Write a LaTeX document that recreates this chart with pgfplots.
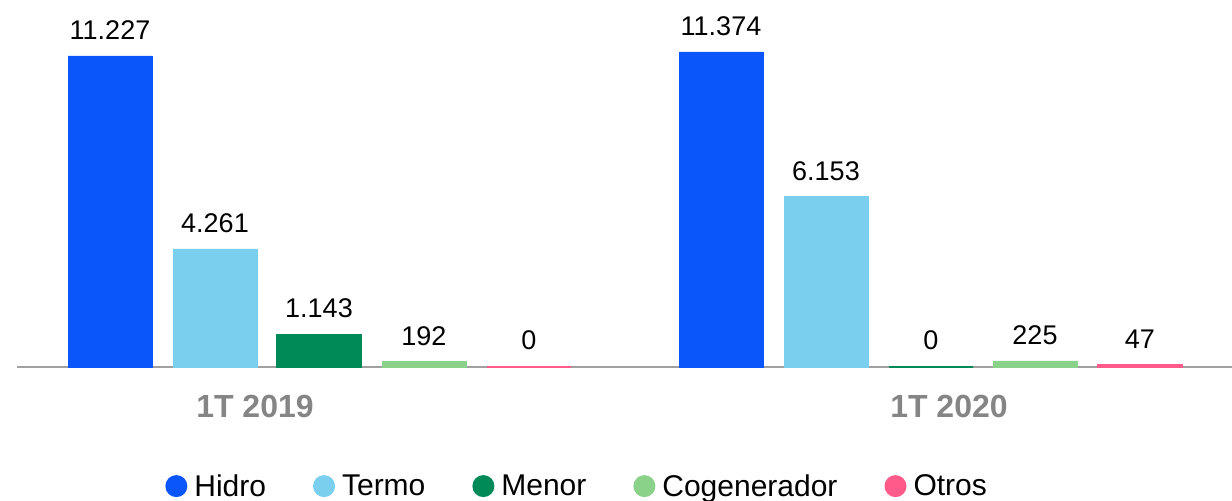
\documentclass[border=0pt]{standalone}
\usepackage{pgfplots}
\pgfplotsset{compat=1.18}
\usepackage{fontspec}
\setmainfont{Liberation Sans}
\definecolor{hidro}{HTML}{0A56FA}
\definecolor{termo}{HTML}{7ACFEE}
\definecolor{menor}{HTML}{008A58}
\definecolor{cogen}{HTML}{8AD28A}
\definecolor{otros}{HTML}{FF5A8A}
\definecolor{axisgray}{HTML}{A0A0A0}
\definecolor{catgray}{HTML}{858585}

\begin{document}
\begin{tikzpicture}
\path[use as bounding box] (-17bp,-134bp) rectangle (1215bp,367bp);
\begin{axis}[
    scale only axis,
    width=1215bp, height=311bp,
    xmin=0, xmax=1215,
    ymin=0, ymax=11227,
    enlargelimits=false,
    clip=false,
    axis x line*=bottom,
    hide y axis,
    x axis line style={draw=axisgray, line width=1.5bp, -},
    xtick={238,932},
    xticklabels={1T 2019,1T 2020},
    major tick length=0pt,
    xticklabel style={font=\fontsize{32bp}{36bp}\selectfont\bfseries, text=catgray, yshift=-25bp},
    ybar,
    bar width=84,
    every axis plot/.append style={bar shift=0pt},
    nodes near coords,
    nodes near coords style={font=\fontsize{27bp}{32bp}\selectfont, text=black, anchor=south, inner sep=0pt, yshift=16bp},
    /pgf/number format/.cd, fixed, precision=0, 1000 sep={.}, assume math mode=true, /pgfplots/.cd,
    legend columns=5,
    legend style={draw=none, fill=none, at={(rel axis cs:0.461,-0.383)}, anchor=center,
        font=\fontsize{30bp}{34bp}\selectfont,
        /tikz/every even column/.append style={column sep=45bp},
        /tikz/every odd column/.append style={column sep=5bp}},
    legend image code/.code={\fill[#1,draw=none] (11bp,0bp) circle (11bp);},
]
\addplot[fill=hidro, draw=hidro] coordinates {(93,11227) (704,11374)};
\addplot[fill=termo, draw=termo] coordinates {(198,4261) (809,6153)};
\addplot[fill=menor, draw=menor, line width=2.5bp] coordinates {(302,1143) (914,0)};
\addplot[fill=cogen, draw=cogen] coordinates {(407,192) (1018,225)};
\addplot[fill=otros, draw=otros, line width=2.5bp] coordinates {(512,0) (1123,47)};
\legend{Hidro, Termo, Menor, Cogenerador, Otros}
\end{axis}
\end{tikzpicture}
\end{document}
